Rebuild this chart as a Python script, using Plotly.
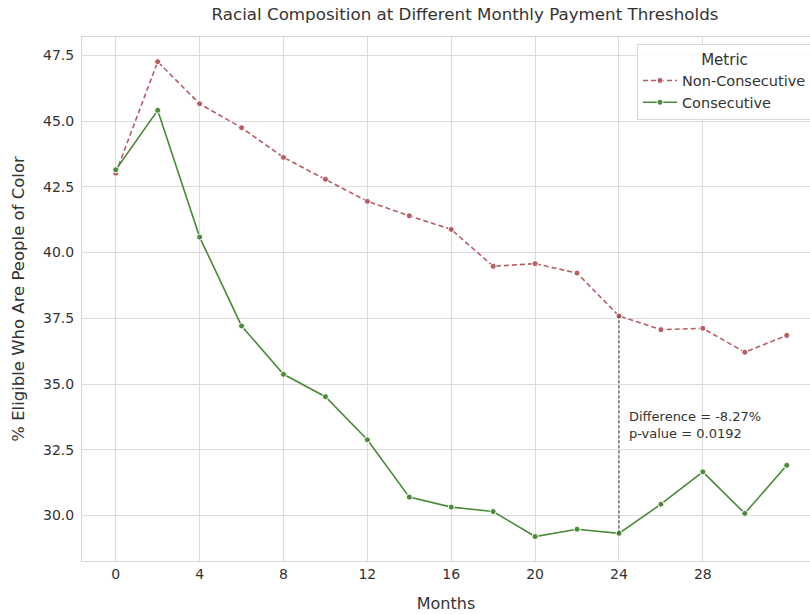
import plotly.graph_objects as go

months = [0, 2, 4, 6, 8, 10, 12, 14, 16, 18, 20, 22, 24, 26, 28, 30, 32]
non_consecutive = [43.02, 47.26, 45.66, 44.75, 43.62, 42.79, 41.95, 41.40, 40.88,
                   39.48, 39.58, 39.22, 37.59, 37.07, 37.12, 36.21, 36.85]
consecutive = [43.15, 45.41, 40.59, 37.21, 35.37, 34.52, 32.88, 30.70, 30.32,
               30.15, 29.20, 29.48, 29.32, 30.43, 31.66, 30.08, 31.91]
x_ticks = [0, 4, 8, 12, 16, 20, 24, 28]
y_ticks = [30.0, 32.5, 35.0, 37.5, 40.0, 42.5, 45.0, 47.5]
highlight_month = 24
difference_text = "Difference = -8.27%<br>p-value = 0.0192"

FONT = "DejaVu Sans"
TXT = "#333333"
RED = "#b85c66"
GREEN = "#4a8a38"

fig = go.Figure()
fig.add_trace(go.Scatter(
    x=months, y=non_consecutive, mode="lines+markers", name="Non-Consecutive",
    line=dict(color=RED, width=1.6, dash="5px,3px"),
    marker=dict(size=6, color=RED, line=dict(color="white", width=1)),
))
fig.add_trace(go.Scatter(
    x=months, y=consecutive, mode="lines+markers", name="Consecutive",
    line=dict(color=GREEN, width=1.6),
    marker=dict(size=6, color=GREEN, line=dict(color="white", width=1)),
))

i = months.index(highlight_month)
fig.add_trace(go.Scatter(
    x=[months[i], months[i]], y=[consecutive[i], non_consecutive[i]],
    mode="lines", showlegend=False, hoverinfo="skip",
    line=dict(color="#333333", width=1, dash="3px,2px"),
))

fig.add_annotation(
    x=24.4, y=33.43, xref="x", yref="y", text=difference_text,
    showarrow=False, xanchor="left", yanchor="middle", align="left",
    font=dict(family=FONT, size=13, color=TXT),
)

fig.update_layout(
    width=810, height=614,
    margin=dict(l=82, r=0, t=37, b=53, autoexpand=False),
    paper_bgcolor="white", plot_bgcolor="white",
    font=dict(family=FONT, color=TXT, size=14),
    title=dict(text="Racial Composition at Different Monthly Payment Thresholds",
               x=465 / 810, xanchor="center", y=1 - 14 / 614, yanchor="middle",
               font=dict(family=FONT, size=16.7, color=TXT)),
    legend=dict(
        title=dict(text="Metric", side="top center", font=dict(size=15, color=TXT)),
        x=(637 - 82) / 728, y=(561 - 44) / 524, xanchor="left", yanchor="top",
        bgcolor="rgba(255,255,255,0.85)", bordercolor="#d8d8d8", borderwidth=1,
        font=dict(family=FONT, size=14.5, color=TXT),
        itemwidth=34,
        tracegroupgap=0,
    ),
    showlegend=True,
)
fig.update_xaxes(
    range=[-1.61, 33.11], tickvals=x_ticks, ticktext=[str(v) for v in x_ticks],
    showgrid=True, gridcolor="#dcdcdc", gridwidth=1, zeroline=False,
    showline=True, linecolor="#d5d5d5", linewidth=1, mirror=True, ticks="",
    tickfont=dict(family=FONT, size=14, color=TXT),
    title=dict(text="Months", font=dict(family=FONT, size=16, color=TXT), standoff=17),
)
fig.update_yaxes(
    range=[28.27, 48.2], tickvals=y_ticks, ticktext=[f"{v:.1f}" for v in y_ticks],
    showgrid=True, gridcolor="#dcdcdc", gridwidth=1, zeroline=False,
    showline=True, linecolor="#d5d5d5", linewidth=1, ticks="",
    ticklabelstandoff=4,
    tickfont=dict(family=FONT, size=14, color=TXT),
    title=dict(text="% Eligible Who Are People of Color",
               font=dict(family=FONT, size=16.5, color=TXT), standoff=14),
)

fig.write_html(
    "out.html",
    config={"displayModeBar": False},
    post_script="document.body.style.margin='0';document.body.style.overflow='hidden';",
)
